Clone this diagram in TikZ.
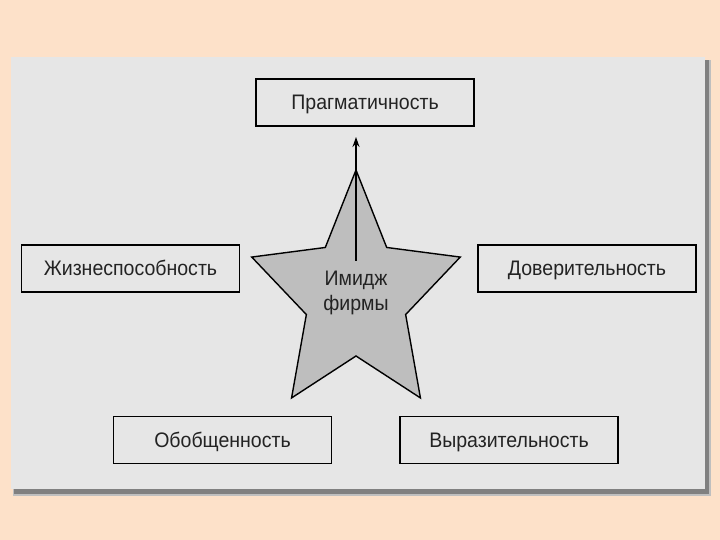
\documentclass[tikz,border=0pt]{standalone}
\usepackage{fontspec}
\setmainfont{Liberation Sans}[FakeStretch=0.93]
\usepackage{tikz}
\usetikzlibrary{positioning,arrows.meta}
\definecolor{peach}{RGB}{253, 225, 201}
\definecolor{panelgray}{RGB}{230, 230, 230}
\definecolor{stargray}{RGB}{190, 190, 190}
\definecolor{inkgray}{RGB}{35, 35, 35}

\begin{document}
\begin{tikzpicture}[
    x=1pt, y=-1pt,
    quality/.style={draw=black, line width=1.3pt, fill=panelgray, minimum width=218pt,
        minimum height=47pt, inner sep=0pt, text height=14pt, text depth=0pt,
        text=inkgray, font=\fontsize{21}{25}\selectfont},
    starshape/.style={draw=black, line width=1.4pt, fill=stargray, line join=miter},
    imgtext/.style={align=center, text=inkgray, inner sep=2pt, font=\fontsize{21}{25}\selectfont},
    pointer/.style={-{Stealth[length=10pt, width=7pt]}, line width=1.6pt}
]
    % Background and panel with shadow
    \fill[peach] (0,0) rectangle (720,540);
    \useasboundingbox (0,0) rectangle (720,540);
    \fill[black!25] (13,60) rectangle (711,496);
    \fill[black!50] (14,60) rectangle (709,494);
    \fill[panelgray] (11,57) rectangle (705,489);

    % Star
    \begin{scope}[shift={(356,296)}, xscale=0.87]
        \path[starshape] (270:126)
            \foreach \k in {1,...,9} { -- ({270+36*\k}:{mod(\k,2)==1 ? 60 : 126}) } -- cycle;
    \end{scope}
    \node[imgtext] (img) at (356,293) {Имидж\\фирмы};

    % Qualities
    \node[quality] (prag) at (365,102.5) {Прагматичность};
    \node[quality] (zhiz) at (130.5,268.5) {Жизнеспособность};
    \node[quality] (dover) at (587,268.5) {Доверительность};
    \node[quality] (obob) at (222.5,440) {Обобщенность};
    \node[quality] (vyraz) at (509,440) {Выразительность};

    % Arrow up
    \coordinate (tip) at (356,137);
    \draw[pointer] ([yshift=8pt]img.north -| tip) -- (tip);
\end{tikzpicture}
\end{document}
